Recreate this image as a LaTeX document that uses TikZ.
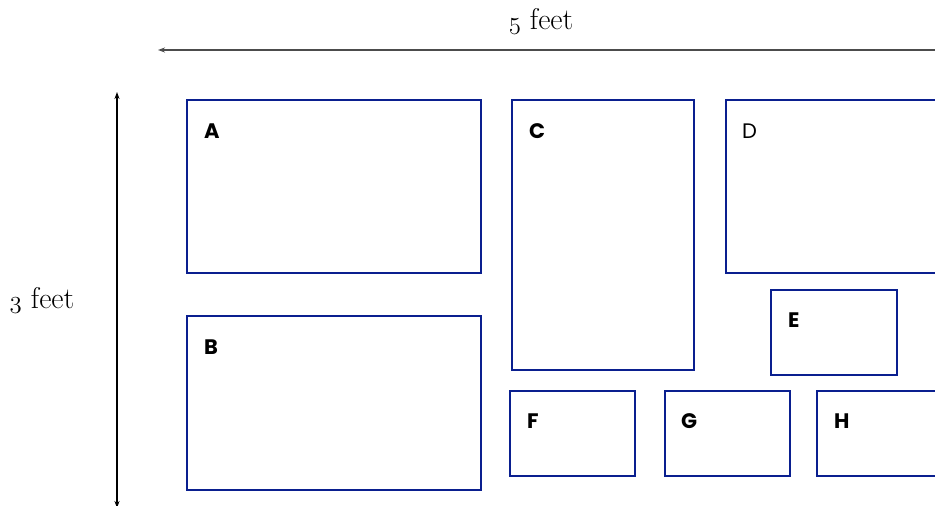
\documentclass[tikz,border=0pt]{standalone}
\usepackage{fontspec}
\newfontfamily\labfont{Poppins}
\usetikzlibrary{arrows.meta}
\definecolor{boxblue}{HTML}{0A1F8F}
\newcommand{\osnum}[1]{{\usefont{OML}{cmm}{m}{it}#1}}
\tikzset{
  panel/.style={draw=boxblue, line width=2.5pt, fill=white},
  lab/.style={anchor=west, font=\labfont\fontsize{21}{24}\selectfont\bfseries, inner sep=0pt},
  labreg/.style={anchor=west, font=\labfont\fontsize{21}{24}\selectfont, inner sep=0pt},
  dim/.style={line width=1.3pt, -{Stealth[length=7pt,width=5pt]}},
  dimtxt/.style={font=\fontsize{30}{34}\selectfont, inner sep=0pt}
}
\begin{document}
\begin{tikzpicture}[x=1pt,y=-1pt]
\useasboundingbox (0,0) rectangle (935,506);
\clip (0,0) rectangle (935,506);
% dimension arrows
\coordinate (hR) at (940,50);
\coordinate (hL) at (158,50);
\draw[dim, draw=black!70] (hR) -- (hL);
\node[dimtxt] (w) at (541,21) {\osnum{5} feet};
\coordinate (vM) at (117,300);
\coordinate (vT) at (117,92);
\coordinate (vB) at (117,508);
\draw[dim] (vM) -- (vT);
\draw[dim] (vM) -- (vB);
\node[dimtxt] (hgt) at (42,300) {\osnum{3} feet};
% boxes
\draw[panel] (187,100) rectangle (481,273);
\draw[panel] (187,316) rectangle (481,490);
\draw[panel] (512,100) rectangle (694,370);
\draw[panel] (726,100) rectangle (945,273);
\draw[panel] (771,290) rectangle (897,375);
\draw[panel] (510,391) rectangle (635,476);
\draw[panel] (665,391) rectangle (790,476);
\draw[panel] (817,391) rectangle (945,476);
% labels
\node[lab] (A) at (204,131) {A};
\node[lab] (B) at (204,347) {B};
\node[lab] (C) at (529,131) {C};
\node[labreg] (D) at (742,131) {D};
\node[lab] (E) at (788,320) {E};
\node[lab] (F) at (527,421) {F};
\node[lab] (G) at (681,421) {G};
\node[lab] (H) at (834,421) {H};
\end{tikzpicture}
\end{document}
